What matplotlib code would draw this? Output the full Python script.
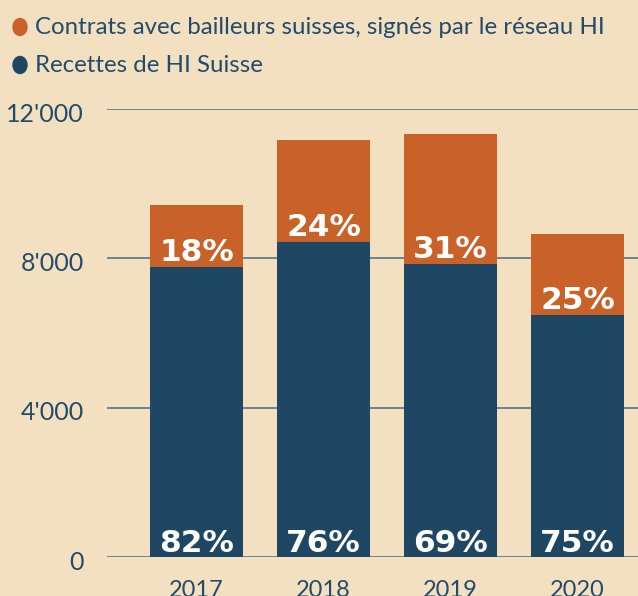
import matplotlib
matplotlib.use("Agg")
import matplotlib.pyplot as plt
from matplotlib.patches import Ellipse
from matplotlib.transforms import ScaledTranslation

years = ["2017", "2018", "2019", "2020"]
recettes_hi = [7770, 8440, 7850, 6490]
contrats_bailleurs = [1660, 2730, 3480, 2160]
pct_recettes = ["82%", "76%", "69%", "75%"]
pct_contrats = ["18%", "24%", "31%", "25%"]
yticks = [0, 4000, 8000, 12000]
ytick_labels = ["0", "4'000", "8'000", "12'000"]
legend_labels = ["Contrats avec bailleurs suisses, signés par le réseau HI",
                 "Recettes de HI Suisse"]

BG = "#F3E0C0"
ORANGE = "#C96228"
BLUE = "#1F4662"
TEXT = "#234B6B"
GRID = "#5F7C93"

W, H = 638, 596
fig = plt.figure(figsize=(W / 100, H / 100), dpi=100, facecolor=BG)
ax = fig.add_axes([107 / W, 1 - 557.3 / H, 1 - 107 / W, (557.3 - 109) / H])
ax.set_facecolor(BG)

x = list(range(len(years)))
ax.bar(x, recettes_hi, width=0.732, color=BLUE, zorder=3)
ax.bar(x, contrats_bailleurs, width=0.732, bottom=recettes_hi, color=ORANGE, zorder=3)

for i in x:
    ax.annotate(pct_contrats[i], (i, recettes_hi[i]), xytext=(0, 6), textcoords="offset pixels",
                ha="center", va="baseline", color="white", fontsize=22.5,
                fontweight="bold", family="DejaVu Sans", zorder=4)
    ax.annotate(pct_recettes[i], (i, 0), xytext=(0, 5), textcoords="offset pixels",
                ha="center", va="baseline", color="white", fontsize=22.5,
                fontweight="bold", family="DejaVu Sans", zorder=4)

ax.set_xlim(-0.705, 3.476)
ax.set_ylim(0, 12000)
ax.set_yticks(yticks)
ax.set_yticklabels(ytick_labels, family="Lato", fontsize=18, color=TEXT)
ax.set_xticks(x)
ax.set_xticklabels(years, family="Lato", fontsize=17, color=TEXT)
ax.tick_params(axis="y", length=0, pad=16.5)
ax.tick_params(axis="x", length=0, pad=16)
shift = ScaledTranslation(0, -3 / 100, fig.dpi_scale_trans)
for lbl in ax.get_yticklabels():
    lbl.set_transform(lbl.get_transform() + shift)
for s in ax.spines.values():
    s.set_visible(False)
ax.grid(axis="y", color=GRID, linewidth=1.3, zorder=1)
ax.set_axisbelow(True)

# legend
colors = [ORANGE, BLUE]
ys = [27, 65]
for lab, c, yy in zip(legend_labels, colors, ys):
    fig.add_artist(Ellipse((20 / W, 1 - yy / H), 14 / W, 17 / H,
                           transform=fig.transFigure, color=c))
    fig.text(35 / W, 1 - yy / H, lab, family="Lato", fontsize=17.3, color=TEXT,
             ha="left", va="center")

fig.savefig("out.png", dpi=100, facecolor=BG)
